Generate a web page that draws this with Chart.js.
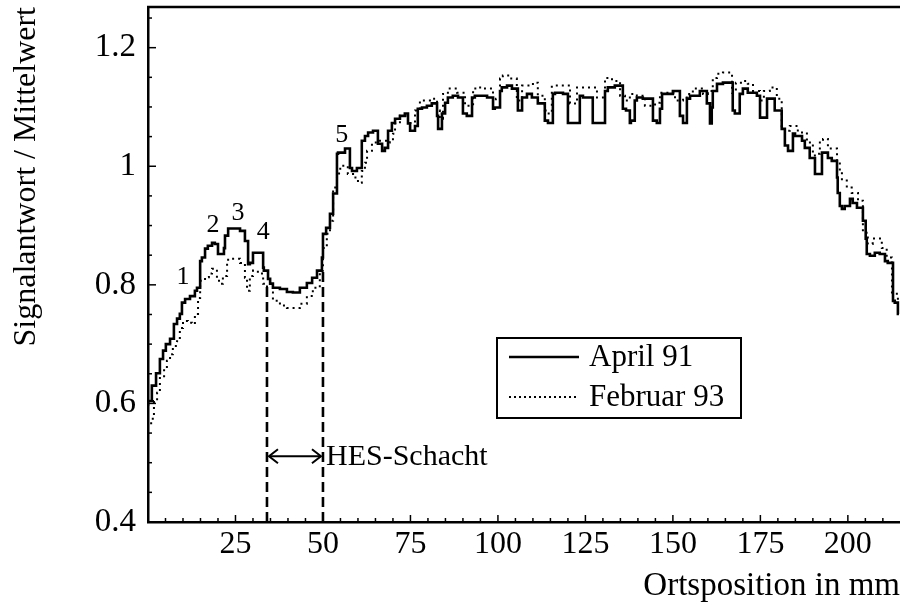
<!DOCTYPE html>
<html>
<head>
<meta charset="utf-8">
<script src="https://cdn.jsdelivr.net/npm/chart.js@4.4.1/dist/chart.umd.min.js"></script>
<style>
html,body{margin:0;padding:0;background:#fff;}
canvas{display:block;}
</style>
</head>
<body>
<canvas id="c" width="900" height="606"></canvas>
<script>
// ---------------- DATA ----------------
const aprilX = [0,1.1,2.3,3.4,4.3,5.1,6.3,7.4,8.3,9.1,9.7,10.6,12.0,13.4,14.0,14.9,15.4,16.3,17.1,18.3,19.1,20.0,20.9,21.7,22.0,22.9,24.3,26.3,27.7,28.6,29.1,30.0,31.1,32.9,33.1,34.3,34.9,35.7,37.7,39.7,41.4,43.4,45.4,46.9,48.3,49.7,50.0,50.9,52.0,52.9,54.0,54.3,56.3,57.7,58.3,59.7,61.1,62.0,62.9,64.3,65.7,66.9,67.7,68.6,69.7,70.6,72.0,73.4,74.3,74.9,76.3,77.1,78.3,79.7,81.1,82.6,82.9,84.0,84.9,85.7,87.1,88.6,90.0,91.1,92.6,93.4,94.9,96.9,98.6,99.1,100.6,101.1,102.6,104.0,105.7,106.9,108.3,109.7,111.4,113.4,114.3,115.7,116.3,118.6,120.0,121.1,123.4,124.3,127.1,128.3,130.6,131.4,133.4,135.7,136.6,137.7,138.0,139.1,139.7,141.4,144.3,145.4,146.3,146.9,147.7,150.0,152.0,152.9,154.0,154.9,157.7,159.7,160.6,161.1,161.4,162.6,164.3,167.1,167.7,169.1,170.0,171.4,174.0,174.9,175.7,176.9,177.7,179.1,181.1,182.0,182.9,184.3,184.9,186.9,187.7,189.1,190.6,191.1,192.6,192.9,194.3,195.4,196.9,197.1,197.7,198.3,199.1,200.6,201.4,202.6,204.3,205.1,205.4,206.3,207.7,209.1,210.6,211.4,212.9,213.4,214.3,214.6];
const aprilY = [0.596,0.604,0.630,0.651,0.675,0.689,0.700,0.709,0.734,0.743,0.751,0.770,0.776,0.781,0.790,0.795,0.840,0.846,0.861,0.866,0.871,0.869,0.852,0.852,0.862,0.883,0.895,0.895,0.891,0.874,0.835,0.837,0.854,0.854,0.829,0.824,0.810,0.802,0.795,0.793,0.788,0.787,0.795,0.803,0.812,0.824,0.846,0.886,0.896,0.920,0.954,1.021,1.023,1.030,0.997,0.992,0.997,1.043,1.051,1.057,1.060,1.038,1.026,1.031,1.060,1.073,1.080,1.085,1.089,1.072,1.060,1.068,1.097,1.099,1.102,1.106,1.085,1.063,1.089,1.107,1.116,1.119,1.116,1.089,1.085,1.116,1.119,1.119,1.116,1.097,1.099,1.127,1.133,1.136,1.131,1.094,1.116,1.122,1.116,1.106,1.077,1.073,1.122,1.124,1.122,1.073,1.073,1.119,1.116,1.073,1.073,1.127,1.133,1.136,1.097,1.094,1.073,1.077,1.111,1.116,1.114,1.077,1.073,1.097,1.122,1.122,1.127,1.085,1.073,1.114,1.119,1.127,1.106,1.072,1.099,1.127,1.139,1.141,1.094,1.089,1.122,1.131,1.124,1.119,1.082,1.082,1.114,1.114,1.094,1.063,1.035,1.026,1.055,1.051,1.043,1.031,1.014,0.987,0.987,1.023,1.023,1.014,1.009,0.981,0.955,0.933,0.928,0.933,0.945,0.938,0.930,0.908,0.878,0.852,0.849,0.854,0.852,0.840,0.837,0.773,0.770,0.751];

const febX = [0,0.9,1.7,2.6,3.4,4.6,5.4,6.3,7.1,8.3,9.1,10.0,11.4,12.6,13.4,14.3,14.9,16.3,17.4,18.3,19.7,20.6,21.4,22.6,22.9,24.3,26.3,27.7,28.3,29.1,30.0,31.4,32.9,34.0,35.7,37.7,39.7,41.4,43.4,45.4,47.1,49.1,50.0,51.1,52.0,52.9,54.0,54.6,55.4,57.1,58.6,60.0,61.1,62.0,62.6,64.0,65.7,66.9,68.3,69.1,70.0,70.6,72.0,74.3,74.9,76.3,77.7,80.6,82.6,83.4,84.3,85.7,88.3,90.6,91.4,92.9,94.0,96.3,98.6,99.4,100.6,101.4,103.4,105.4,106.9,108.3,110.0,111.4,113.4,114.0,115.4,116.3,117.7,120.6,121.4,122.6,124.3,128.3,129.1,130.6,132.6,134.9,136.3,137.7,139.7,142.0,143.4,144.9,146.3,148.3,150.6,152.9,154.3,155.7,158.6,160.0,161.4,162.6,164.3,166.9,168.0,170.0,171.4,172.9,174.9,176.0,177.7,179.7,181.1,182.0,183.4,185.7,188.3,190.0,191.4,192.0,192.9,194.3,196.9,197.7,198.3,199.7,201.1,202.9,204.3,205.7,207.1,209.7,211.1,212.6,214.3,214.9];
const febY = [0.550,0.562,0.574,0.604,0.618,0.646,0.658,0.672,0.683,0.697,0.705,0.727,0.739,0.736,0.734,0.751,0.778,0.807,0.813,0.819,0.827,0.807,0.802,0.815,0.840,0.844,0.844,0.837,0.812,0.790,0.815,0.824,0.819,0.802,0.787,0.773,0.765,0.761,0.761,0.768,0.781,0.795,0.824,0.862,0.886,0.908,0.964,0.984,0.996,1.001,0.987,0.981,0.972,0.992,1.006,1.026,1.040,1.043,1.043,1.040,1.043,1.055,1.072,1.085,1.077,1.073,1.094,1.111,1.114,1.094,1.080,1.122,1.131,1.124,1.102,1.102,1.131,1.133,1.131,1.111,1.114,1.148,1.153,1.148,1.111,1.136,1.136,1.141,1.119,1.094,1.089,1.136,1.136,1.136,1.106,1.106,1.133,1.133,1.116,1.116,1.149,1.144,1.119,1.111,1.122,1.119,1.102,1.102,1.107,1.124,1.124,1.111,1.116,1.122,1.131,1.122,1.127,1.149,1.156,1.158,1.124,1.141,1.144,1.139,1.127,1.111,1.127,1.133,1.114,1.063,1.060,1.068,1.057,1.040,1.018,1.021,1.043,1.046,1.030,1.009,0.992,0.976,0.964,0.955,0.942,0.888,0.869,0.878,0.862,0.846,0.785,0.773];

const seriesNames = ['April 91', 'Februar 93'];
const xTickValues = [25, 50, 75, 100, 125, 150, 175, 200];
const yTickValues = [0.4, 0.6, 0.8, 1.0, 1.2];
const yTickLabels = ['0.4', '0.6', '0.8', '1', '1.2'];

const peakLabels = ['1', '2', '3', '4', '5'];
const peakX = [10.0, 18.6, 25.7, 32.9, 55.4];
const peakY = [0.813, 0.901, 0.921, 0.889, 1.053];

const hesX = [34, 50];
const hesTopY = [0.800, 0.824];
const hesArrowY = 0.511;
const hesLabel = 'HES-Schacht';

// ---------------- CHART ----------------
const FONT = 'Liberation Serif, Times New Roman, serif';
const toPts = (xs, ys) => xs.map((x, i) => ({x: x, y: ys[i]}));

const overlay = {
  id: 'overlay',
  afterDatasetsDraw(chart) {
    const {ctx, chartArea: a, scales: {x, y}} = chart;
    ctx.save();
    ctx.strokeStyle = '#000';
    ctx.fillStyle = '#000';
    ctx.setLineDash([]);
    const line = (x1, y1, x2, y2) => { ctx.beginPath(); ctx.moveTo(x1, y1); ctx.lineTo(x2, y2); ctx.stroke(); };
    // top frame
    ctx.lineWidth = 2.5;
    line(a.left - 1, a.top, a.right, a.top);
    // inward ticks x
    ctx.lineWidth = 1.5;
    for (let k = 1; k * 5 < x.max; k++) {
      const v = k * 5;
      const px = x.getPixelForValue(v);
      const len = (v % 25 === 0) ? 7 : 4;
      line(px, a.bottom, px, a.bottom - len);
    }
    // inward ticks y
    for (let k = 9; k * 0.05 < y.max; k++) {
      const v = k * 0.05;
      const py = y.getPixelForValue(v);
      const len = (k % 4 === 0) ? 8 : 4;
      line(a.left, py, a.left + len, py);
    }
    // peak labels
    ctx.font = '26px ' + FONT;
    ctx.textAlign = 'center';
    ctx.textBaseline = 'middle';
    peakLabels.forEach((t, i) => ctx.fillText(t, x.getPixelForValue(peakX[i]), y.getPixelForValue(peakY[i])));
    // HES arrow
    const ay = y.getPixelForValue(hesArrowY);
    const x1 = x.getPixelForValue(hesX[0]) + 2, x2 = x.getPixelForValue(hesX[1]) - 2;
    ctx.lineWidth = 2;
    line(x1, ay, x2, ay);
    ctx.beginPath(); ctx.moveTo(x1 + 9, ay - 7); ctx.lineTo(x1, ay); ctx.lineTo(x1 + 9, ay + 7); ctx.stroke();
    ctx.beginPath(); ctx.moveTo(x2 - 9, ay - 7); ctx.lineTo(x2, ay); ctx.lineTo(x2 - 9, ay + 7); ctx.stroke();
    ctx.font = '30px ' + FONT;
    ctx.textAlign = 'left';
    ctx.fillText(hesLabel, x.getPixelForValue(hesX[1]) + 3, ay + 1);
    // legend box
    const lx = 497, ly = 338, lw = 244, lh = 80;
    ctx.lineWidth = 2;
    ctx.strokeRect(lx, ly, lw, lh);
    ctx.lineWidth = 2.5;
    line(lx + 12, ly + 19, lx + 82, ly + 19);
    ctx.setLineDash([2, 3]);
    ctx.lineWidth = 2;
    line(lx + 12, ly + 59, lx + 82, ly + 59);
    ctx.setLineDash([]);
    ctx.font = '31px ' + FONT;
    ctx.textAlign = 'left';
    ctx.fillText(seriesNames[0], lx + 92, ly + 20);
    ctx.fillText(seriesNames[1], lx + 92, ly + 60);
    ctx.restore();
  }
};

new Chart(document.getElementById('c'), {
  type: 'line',
  data: {
    datasets: [
      {label: seriesNames[0], data: toPts(aprilX, aprilY), borderColor: '#000', borderWidth: 2.6, pointRadius: 0, stepped: 'after', fill: false},
      {label: seriesNames[1], data: toPts(febX, febY), borderColor: '#000', borderWidth: 2, borderDash: [2, 4], pointRadius: 0, stepped: 'after', fill: false},
      {label: 'hes1', data: [{x: hesX[0], y: 0.4}, {x: hesX[0], y: hesTopY[0]}], borderColor: '#000', borderWidth: 2.6, borderDash: [10, 5], pointRadius: 0},
      {label: 'hes2', data: [{x: hesX[1], y: 0.4}, {x: hesX[1], y: hesTopY[1]}], borderColor: '#000', borderWidth: 2.6, borderDash: [10, 5], pointRadius: 0}
    ]
  },
  options: {
    responsive: false,
    animation: false,
    devicePixelRatio: 1,
    layout: {padding: {top: 7, right: 0, left: 0, bottom: 0}},
    plugins: {legend: {display: false}, tooltip: {enabled: false}},
    scales: {
      x: {
        type: 'linear', min: 0, max: 214.9,
        afterBuildTicks: s => { s.ticks = xTickValues.map(v => ({value: v})); },
        afterFit: s => { s.height = 84; s.paddingLeft = 0; s.paddingRight = 0; },
        grid: {display: false, drawTicks: false},
        border: {display: true, color: '#000', width: 2.5},
        ticks: {color: '#000', font: {family: FONT, size: 32}, padding: 3, maxRotation: 0, autoSkip: false, callback: v => String(v)},
        title: {display: true, text: 'Ortsposition in mm', align: 'end', color: '#000', font: {family: FONT, size: 33}, padding: {top: 0, bottom: 0}}
      },
      y: {
        type: 'linear', min: 0.4, max: 1.2686,
        afterBuildTicks: s => { s.ticks = yTickValues.map(v => ({value: v})); },
        afterFit: s => { s.width = 148; s.paddingTop = 0; s.paddingBottom = 0; },
        grid: {display: false, drawTicks: false},
        border: {display: true, color: '#000', width: 2.5},
        ticks: {color: '#000', font: {family: FONT, size: 33}, padding: 12, callback: (v, i) => yTickLabels[i]},
        title: {display: true, text: 'Signalantwort / Mittelwert', align: 'end', color: '#000', font: {family: FONT, size: 32}, padding: {top: 7, bottom: 0}}
      }
    }
  },
  plugins: [overlay]
});
</script>
</body>
</html>
